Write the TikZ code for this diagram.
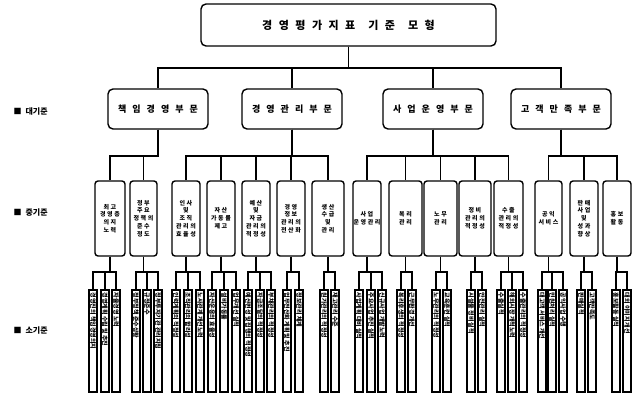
\documentclass[tikz,border=0pt]{standalone}
\usepackage{fontspec}
\setmainfont{Noto Sans CJK KR}
\newfontfamily\krmid{Noto Sans CJK KR}[LetterSpace=25]
\newcommand{\kg}{\hspace{6.5pt}}
\newcommand{\kw}{\hspace{13pt}}
\newcommand{\kb}{\hspace{6pt}}
\begin{document}
\begin{tikzpicture}[x=1pt,y=-1pt,
  conn/.style={line width=1.7pt},
  topbox/.style={draw, line width=1.4pt, rounded corners=5pt, minimum width=295pt, minimum height=42pt, font=\fontsize{11}{13}\selectfont\bfseries},
  bigbox/.style={draw, line width=1.4pt, rounded corners=5pt, minimum width=100pt, minimum height=40pt, font=\fontsize{9}{11}\selectfont\bfseries},
  midbox/.style={draw, line width=1.4pt, rounded corners=3pt, minimum height=75pt, inner sep=0pt, align=center, font=\krmid\fontsize{6}{7.8}\selectfont\bfseries},
  leafbox/.style={draw, line width=1.2pt, minimum width=8pt, minimum height=102pt, inner sep=0pt},
  leaftext/.style={rotate=-90, anchor=west, inner sep=0pt, font=\fontsize{6}{6}\selectfont\bfseries},
  side/.style={anchor=west, font=\fontsize{8}{10}\selectfont\bfseries}
]
\useasboundingbox (0,0) rectangle (633,396);
\coordinate (ytop) at (0,68);
\coordinate (ymid) at (0,156);
\coordinate (yleaf) at (0,272);

% side labels
\node[side] (s1) at (10,111) {■\enspace 대기준};
\node[side] (s2) at (10,213) {■\enspace 중기준};
\node[side] (s3) at (10,330) {■\enspace 소기준};

% top
\node[topbox] (top) at (348.5,25) {경\kg 영\kg 평\kg 가\kg 지\kg 표\kw 기\kg 준\kw 모\kg 형};

% level 1
\node[bigbox] (b1) at (158,109) {책\kb 임\kb 경\kb 영\kb 부\kb 문};
\node[bigbox] (b2) at (292,109) {경\kb 영\kb 관\kb 리\kb 부\kb 문};
\node[bigbox] (b3) at (433,109) {사\kb 업\kb 운\kb 영\kb 부\kb 문};
\node[bigbox] (b4) at (561,109) {고\kb 객\kb 만\kb 족\kb 부\kb 문};
\foreach \b in {b1,b2,b3,b4}
  \draw[conn] (top.south) -- (top.south |- ytop) -| (\b.north);

% level 2
\node[midbox, minimum width=30pt] (m1) at (110,218.5) {최고\\경영층\\의지\\노력};
\node[midbox, minimum width=27pt] (m2) at (143.5,218.5) {정부\\주요\\정책의\\준수\\정도};
\node[midbox, minimum width=28pt] (m3) at (186,218.5) {인사\\및\\조직\\관리의\\효율성};
\node[midbox, minimum width=28pt] (m4) at (221,218.5) {자산\\가동률\\제고};
\node[midbox, minimum width=28pt] (m5) at (256,218.5) {예산\\및\\자금\\관리의\\적정성};
\node[midbox, minimum width=28pt] (m6) at (291,218.5) {경영\\정보\\관리의\\전산화};
\node[midbox, minimum width=32pt] (m7) at (328,218.5) {생산\\수급\\및\\관리};
\node[midbox, minimum width=28pt] (m8) at (367,218.5) {사업\\운영관리};
\node[midbox, minimum width=33pt] (m9) at (405.5,218.5) {복리\\관리};
\node[midbox, minimum width=33pt] (m10) at (440.5,218.5) {노무\\관리};
\node[midbox, minimum width=32pt] (m11) at (475,218.5) {정비\\관리의\\적정성};
\node[midbox, minimum width=29pt] (m12) at (508.5,218.5) {수출\\관리의\\적정성};
\node[midbox, minimum width=27pt] (m13) at (548.5,218.5) {공익\\서비스};
\node[midbox, minimum width=28pt] (m14) at (584,218.5) {판매\\사업\\및\\성과\\향상};
\node[midbox, minimum width=28pt] (m15) at (617,218.5) {홍보\\활동};

\foreach \b/\m in {b1/m1,b1/m2,b2/m3,b2/m4,b2/m5,b2/m6,b2/m7,b3/m8,b3/m9,b3/m10,b3/m11,b3/m12,b4/m13,b4/m14,b4/m15}
  \draw[conn] (\b.south) -- (\b.south |- ymid) -| (\m.north);

% level 3 leaves
\foreach \n/\x/\m/\t in {
  1/93/m1/{경영진의 책임경영의지},
  2/105/m1/{경영계획 수립 및 추진},
  3/116/m1/{자율경영 노력},
  4/136/m2/{정부정책 준수상황},
  5/147/m2/{규정준수},
  6/158/m2/{정부투자기관 관리지침},
  7/176/m3/{인력계획의 적정성},
  8/188/m3/{조직관리의 합리성},
  9/200/m3/{노사관계 개선노력},
  10/212/m4/{자산운용의 효율성},
  11/224/m4/{설비가동률},
  12/236/m4/{업무개선 실적},
  13/248/m5/{예산편성 및 집행의 적정성},
  14/260/m5/{자금조달의 적정성},
  15/271/m5/{부채관리의 적정성},
  16/287/m6/{업무전산화 계획 및 추진},
  17/299/m6/{정보관리 체계},
  18/324/m7/{원가관리의 적정성},
  19/335/m7/{재고관리 수준},
  20/359/m8/{사업계획 대비 실적},
  21/371/m8/{주요사업 추진 실적},
  22/382/m8/{신규사업 개발노력},
  23/401/m9/{복리후생의 적정성},
  24/412/m9/{근무환경 개선},
  25/436/m10/{노무관리의 적정성},
  26/447/m10/{교육훈련 실적},
  27/471/m11/{시설물 정비 실적},
  28/482/m11/{안전관리 실적},
  29/501/m12/{수출실적},
  30/512/m12/{해외시장 개척노력},
  31/523/m12/{수출관리의 적정성},
  32/542/m13/{대고객 서비스 개선},
  33/552/m13/{민원처리 실적},
  34/563/m13/{공익사업 수행},
  35/581/m14/{판매실적},
  36/592/m14/{고객만족도},
  37/616/m15/{홍보활동 실적},
  38/627/m15/{대외 이미지 개선}}
{
  \node[leafbox] (lf\n) at (\x,341) {};
  \node[leaftext] (lt\n) at ([yshift=-3pt]lf\n.north) {\t};
  \draw[conn] (\m.south) -- (\m.south |- yleaf) -| (lf\n.north);
}
\end{tikzpicture}
\end{document}
